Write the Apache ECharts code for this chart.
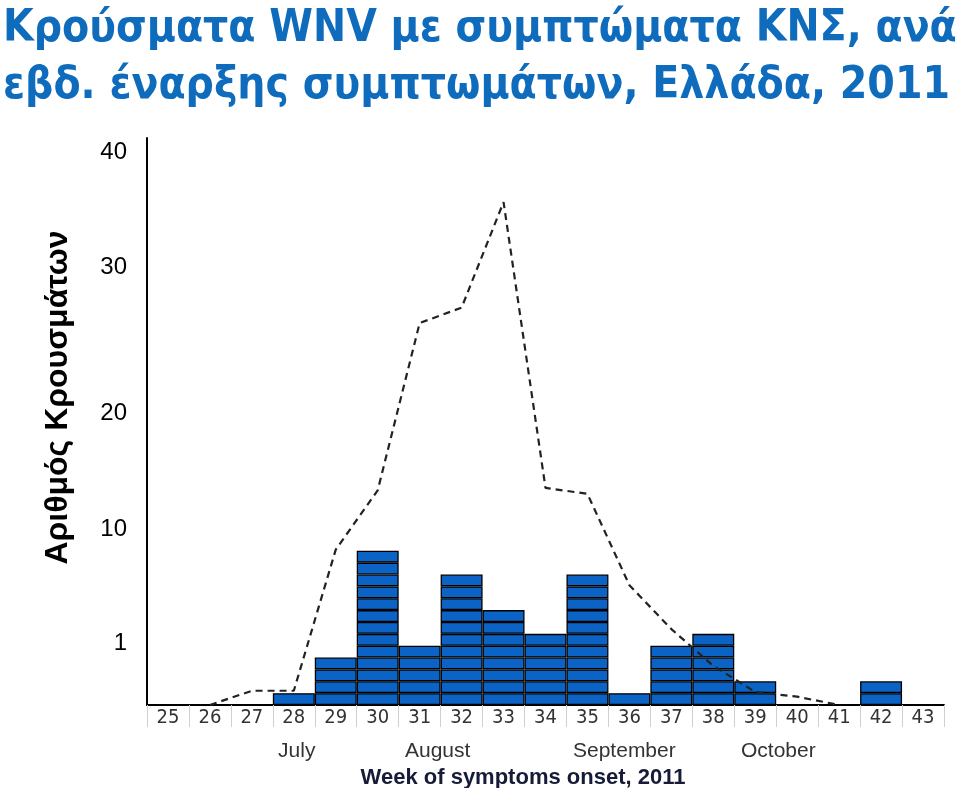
<!DOCTYPE html>
<html>
<head>
<meta charset="utf-8">
<script src="https://cdn.jsdelivr.net/npm/echarts@6/dist/echarts.min.js"></script>
<style>html,body{margin:0;padding:0;background:#fff}#c{width:960px;height:788px}</style>
</head>
<body>
<div id="c"></div>
<script>
// ---- data ----
const weeks = ['25','26','27','28','29','30','31','32','33','34','35','36','37','38','39','40','41','42','43'];
const cases2011 = [0,0,0,1,4,13,5,11,8,6,11,1,5,6,2,0,0,2,0];
const dashedCurve = [null,0,1.2,1.2,13.1,18.1,32.2,33.5,42.4,18.3,17.8,10.1,6.4,3.3,1.1,0.7,0,null,null];
const yTickLabels = ['1','10','20','30','40'];
const yTickValues = [5.2,14.8,24.6,36.9,46.6];
const monthLabels = ['July','August','September','October'];
const monthWeeks = [28.07,31.43,35.88,39.55];

const titleText = 'Κρούσματα WNV με συμπτώματα ΚΝΣ, ανά\nεβδ. έναρξης συμπτωμάτων, Ελλάδα, 2011';
const yName = 'Αριθμός Κρουσμάτων';
const xName = 'Week of symptoms onset, 2011';

const NARROW = "'Liberation Sans Narrow','DejaVu Sans Condensed','Liberation Sans',Arial,sans-serif";
const SANS = "'Liberation Sans',Arial,sans-serif";

// unit boxes: one stacked series per case level
const maxCount = Math.max(...cases2011);
const unitSeries = [];
for (let k = 1; k <= maxCount; k++) {
  unitSeries.push({
    type: 'bar',
    stack: 'cases',
    xAxisIndex: 0,
    yAxisIndex: 0,
    barCategoryGap: '0%',
    data: cases2011.map(c => (c >= k ? 1 : '-')),
    itemStyle: { color: '#0b63c6', borderColor: '#000', borderWidth: 1.3 },
    silent: true,
    z: 2
  });
}

const chart = echarts.init(document.getElementById('c'));
chart.setOption({
  animation: false,
  backgroundColor: '#fff',
  title: {
    text: titleText,
    left: -2,
    top: -4,
    textStyle: {
      fontFamily: NARROW,
      fontSize: 44,
      fontWeight: 'bold',
      color: '#0f6cbd',
      lineHeight: 57
    }
  },
  grid: { left: 147, right: 16, top: 138, bottom: 83, containLabel: false, outerBoundsMode: 'none' },
  xAxis: [
    {
      type: 'category',
      data: weeks,
      position: 'bottom',
      axisLine: { show: true, onZero: false, lineStyle: { color: '#000', width: 2 } },
      axisTick: { show: true, alignWithLabel: false, length: 22, lineStyle: { color: '#d0d0d0', width: 1 } },
      axisLabel: { fontFamily: NARROW, fontSize: 20, color: '#333', margin: 3 },
      splitLine: { show: false }
    },
    {
      type: 'value',
      position: 'bottom',
      offset: 36,
      min: 24.5,
      max: 43.5,
      axisLine: { show: false },
      axisTick: { show: false },
      splitLine: { show: false },
      axisLabel: {
        customValues: monthWeeks,
        formatter: v => {
          const i = monthWeeks.findIndex(m => Math.abs(m - v) < 1e-6);
          return i >= 0 ? monthLabels[i] : '';
        },
        fontFamily: SANS,
        fontSize: 21,
        color: '#333',
        margin: 0
      },
      name: xName,
      nameLocation: 'middle',
      nameGap: 22,
      nameTextStyle: {
        fontFamily: SANS,
        fontSize: 22,
        fontWeight: 'bold',
        color: '#161b38',
        padding: [0, 45, 0, 0]
      }
    }
  ],
  yAxis: [
    {
      type: 'value',
      min: 0,
      max: 47.8,
      axisLine: { show: true, lineStyle: { color: '#000', width: 2 } },
      axisTick: { show: false },
      splitLine: { show: false },
      axisLabel: {
        customValues: yTickValues,
        formatter: v => {
          const i = yTickValues.findIndex(m => Math.abs(m - v) < 1e-6);
          return i >= 0 ? yTickLabels[i] : '';
        },
        fontFamily: SANS,
        fontSize: 24,
        color: '#000',
        margin: 20
      },
      name: yName,
      nameLocation: 'middle',
      nameRotate: 90,
      nameGap: 73,
      nameTextStyle: { fontFamily: SANS, fontSize: 32, fontWeight: 'bold', color: '#000', padding: [0, 0, 0, 48] }
    }
  ],
  series: unitSeries.concat([
    {
      type: 'line',
      xAxisIndex: 0,
      yAxisIndex: 0,
      data: dashedCurve,
      symbol: 'none',
      connectNulls: false,
      lineStyle: { color: '#222', width: 2.2, type: [7, 5] },
      silent: true,
      z: 5
    }
  ])
});
</script>
</body>
</html>
